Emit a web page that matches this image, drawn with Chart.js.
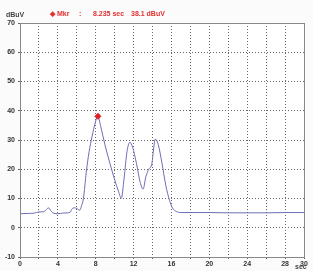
<!DOCTYPE html>
<html><head><meta charset="utf-8">
<script src="https://cdn.jsdelivr.net/npm/chart.js@4.4.1/dist/chart.umd.min.js"></script>
<style>html,body{margin:0;padding:0;background:#fbfbfb;}#wrap{width:313px;height:271px;}</style>
</head><body><div id="wrap"><canvas id="c" width="313" height="271"></canvas></div>
<script>
const timeSec = [0,1,1.5,2,2.5,2.8,3.0,3.3,3.6,4.0,4.5,5.0,5.3,5.5,5.8,6.0,6.3,6.5,6.7,7.0,7.3,7.6,8.0,8.235,8.5,9.0,9.5,10.0,10.4,10.7,11.0,11.3,11.6,11.9,12.3,12.7,13.0,13.3,13.6,13.9,14.3,14.6,15.0,15.4,15.8,16.1,16.5,17,18,20,22,24,26,28,30];
const levelDbuv = [4.8,4.9,5.0,5.4,5.5,6.3,6.8,5.6,4.9,4.8,5.0,5.1,5.3,6.5,6.8,6.6,6.0,7.5,10,19,26,31,36.5,38.1,35,28,22,16.4,12.5,10.1,17,26,29.2,27.5,22,15.5,13.2,17.5,20,21.5,30.3,28.5,22,14.5,9.3,6.8,5.6,5.2,5.2,5.2,5.1,5.1,5.1,5.2,5.2];
const markerTime = [8.235];
const markerLevel = [38.1];
const xTickLabels = [0,4,8,12,16,20,24,28,30];
const headerTexts = ["\u25C6 Mkr", ":", "8.235 sec", "38.1 dBuV"];
const unitY = "dBuV";
const unitX = "sec";

const trace = timeSec.map((t,i)=>({x:t,y:levelDbuv[i]}));
const mk = markerTime.map((t,i)=>({x:t,y:markerLevel[i]}));

const textPlugin = {
  id:'texts',
  afterDraw(chart){
    const ctx = chart.ctx, a = chart.chartArea; ctx.save();
    ctx.strokeStyle='#888'; ctx.lineWidth=1;
    ctx.strokeRect(Math.round(a.left)+0.5, Math.round(a.top)+0.5, Math.round(a.right-a.left), Math.round(a.bottom-a.top));
    ctx.font = 'bold 7px "Liberation Sans"';
    ctx.fillStyle = '#444'; ctx.textBaseline='middle'; ctx.textAlign='left';
    ctx.fillText(unitY, 6, 15);
    ctx.fillText(unitX, chart.scales.x.getPixelForValue(30)-9, 267);
    ctx.fillStyle = '#e03030';
    const xs = [50, 79, 93, 131];
    headerTexts.forEach((s,i)=>ctx.fillText(s, xs[i], 14));
    ctx.restore();
  }
};
const bgPlugin = {
  id:'bg',
  beforeDraw(chart){
    const a = chart.chartArea, ctx = chart.ctx;
    ctx.save(); ctx.fillStyle='#ffffff'; ctx.fillRect(a.left,a.top,a.right-a.left,a.bottom-a.top); ctx.restore();
  }
};

new Chart(document.getElementById('c'), {
  type:'scatter',
  data:{datasets:[
    {data:mk, showLine:false, pointStyle:'rectRot', pointRadius:3, backgroundColor:'#e02020', borderColor:'#e02020'},
    {data:trace, showLine:true, borderColor:'#6e6eb4', borderWidth:1, pointRadius:0, cubicInterpolationMode:'monotone'}
  ]},
  options:{
    responsive:false, animation:false, devicePixelRatio:1,
    layout:{padding:{top:23,right:9,left:0,bottom:0}},
    plugins:{legend:{display:false}, tooltip:{enabled:false}},
    scales:{
      x:{type:'linear', min:0, max:30,
        afterFit(s){s.height=14;},
        ticks:{stepSize:2, autoSkip:false, maxRotation:0, padding:1, color:'#333', font:{family:'Liberation Sans', size:7, weight:'bold'},
          callback:v=> xTickLabels.includes(v)? String(v):''},
        grid:{color:'#666', lineWidth:1, tickLength:2, drawTicks:true},
        border:{color:'#888', dash:[1,2]}},
      y:{min:-10, max:70,
        afterFit(s){s.width=20;},
        ticks:{stepSize:10, padding:3, color:'#333', font:{family:'Liberation Sans', size:7, weight:'bold'}},
        grid:{color:'#666', lineWidth:1, tickLength:2},
        border:{color:'#888', dash:[1,2]}}
    }
  },
  plugins:[bgPlugin, textPlugin]
});
</script></body></html>
